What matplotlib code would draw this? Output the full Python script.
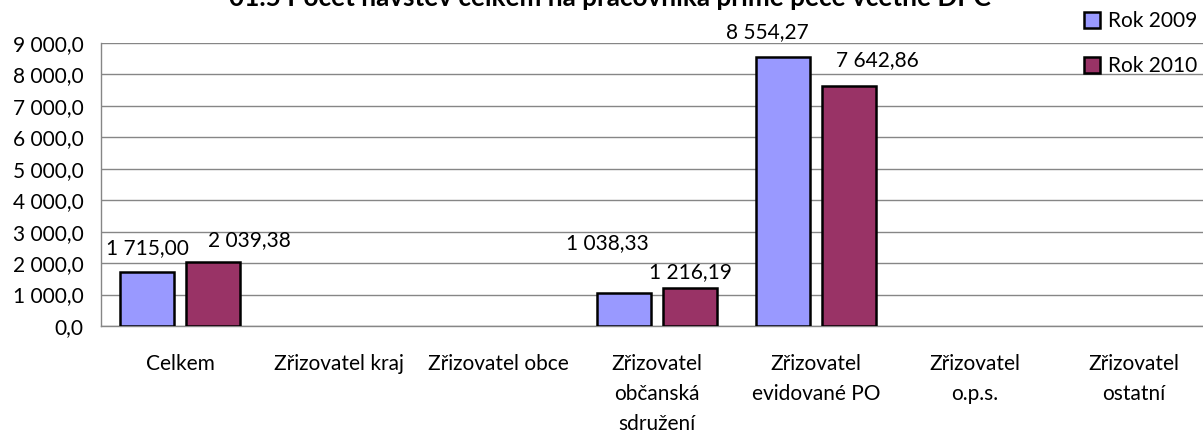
import numpy as np
import matplotlib
matplotlib.use("Agg")
import matplotlib.pyplot as plt
from matplotlib.ticker import FuncFormatter, MultipleLocator

plt.rcParams["font.family"] = ["Lato", "DejaVu Sans"]

categories = [
    "Celkem",
    "Zřizovatel kraj",
    "Zřizovatel obce",
    "Zřizovatel\nobčanská\nsdružení",
    "Zřizovatel\nevidované PO",
    "Zřizovatel\no.p.s.",
    "Zřizovatel\nostatní",
]
values_2009 = [1715.00, np.nan, np.nan, 1038.33, 8554.27, np.nan, np.nan]
values_2010 = [2039.38, np.nan, np.nan, 1216.19, 7642.86, np.nan, np.nan]
series_names = ["Rok 2009", "Rok 2010"]
title = "01.5 Počet návštěv celkem na pracovníka přímé péče včetně DPČ"

# label offsets in pixels (dx, dy) from the top centre of each bar
offsets_2009 = [(0, 24), None, None, (-17, 50), (-16, 25), None, None]
offsets_2010 = [(36, 22), None, None, (0, 16), (28, 26), None, None]

colors = ["#9999FF", "#993366"]


def cz_num(v, decimals):
    s = f"{v:,.{decimals}f}"
    return s.replace(",", " ").replace(".", ",")


fig = plt.figure(figsize=(12.03, 4.34), dpi=100)
W, H = 1203, 434
ax = fig.add_axes([100.5 / W, 108 / H, 1113 / W, 283 / H])

x = np.arange(len(categories))
width = 0.345
shift = 0.2075

bars = []
for vals, off, col, name in [
    (values_2009, -shift, colors[0], series_names[0]),
    (values_2010, shift, colors[1], series_names[1]),
]:
    b = ax.bar(x + off, vals, width, color=col, edgecolor="black",
               linewidth=1.8, label=name, zorder=3)
    bars.append(b)

for vals, off, offs in [
    (values_2009, -shift, offsets_2009),
    (values_2010, shift, offsets_2010),
]:
    for i, v in enumerate(vals):
        if np.isnan(v):
            continue
        ax.annotate(cz_num(v, 2), xy=(x[i] + off, v), xytext=offs[i],
                    textcoords="offset pixels", ha="center", va="center",
                    fontsize=15, zorder=4)

ax.set_xlim(-0.5, len(categories) - 0.5)
ax.set_ylim(0, 9000)
ax.yaxis.set_major_locator(MultipleLocator(1000))
ax.yaxis.set_major_formatter(FuncFormatter(lambda v, p: cz_num(v, 1)))
ax.grid(axis="y", color="#868686", linewidth=1, zorder=0)
ax.set_axisbelow(True)

ax.set_xticks(x)
ax.set_xticklabels(categories, fontsize=15, linespacing=1.62, va="top")
ax.tick_params(axis="x", length=0, pad=20)
ax.tick_params(axis="y", length=0, pad=12, labelsize=15)

for side in ["top", "right"]:
    ax.spines[side].set_visible(False)
for side in ["left", "bottom"]:
    ax.spines[side].set_color("#868686")
    ax.spines[side].set_linewidth(1)

# the title sits partly above the top edge, as in the source chart
fig.text(610 / W, 1 - 6 / H, title, ha="center", va="baseline",
         fontsize=18.8, fontweight="bold")

fig.legend(handles=bars, labels=series_names, loc="upper left",
           bbox_to_anchor=(1076 / W, 1 - 3 / H), frameon=False,
           fontsize=15, handlelength=0.75, handleheight=0.75,
           handletextpad=0.4, labelspacing=1.2, borderaxespad=0)

fig.savefig("out.png", dpi=100)
